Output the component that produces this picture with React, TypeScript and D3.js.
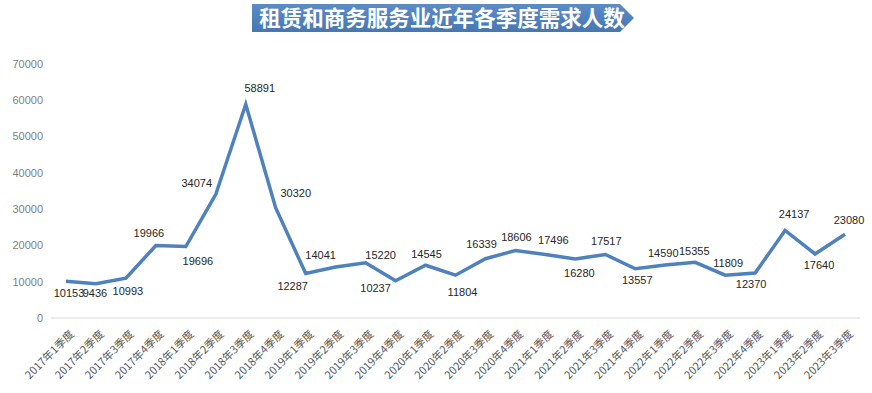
import React from "react";
import * as d3 from "d3";

const categories = [
  "2017年1季度","2017年2季度","2017年3季度","2017年4季度",
  "2018年1季度","2018年2季度","2018年3季度","2018年4季度",
  "2019年1季度","2019年2季度","2019年3季度","2019年4季度",
  "2020年1季度","2020年2季度","2020年3季度","2020年4季度",
  "2021年1季度","2021年2季度","2021年3季度","2021年4季度",
  "2022年1季度","2022年2季度","2022年3季度","2022年4季度",
  "2023年1季度","2023年2季度","2023年3季度",
];
const values = [
  10153, 9436, 10993, 19966, 19696, 34074, 58891, 30320, 12287, 14041,
  15220, 10237, 14545, 11804, 16339, 18606, 17496, 16280, 17517, 13557,
  14590, 15355, 11809, 12370, 24137, 17640, 23080,
];
const yTicks = [0, 10000, 20000, 30000, 40000, 50000, 60000, 70000];
const title = "租赁和商务服务业近年各季度需求人数";

// label offsets (style): [dx, dy] relative to the point
const labelOffsets: [number, number][] = [
  [3, 16], [-1, 13], [2, 17], [-7, -9], [12, 18], [-19, -7], [14, -12], [20, -11],
  [-13, 17], [-15, -8], [15, -4], [-20, 11], [1, -7], [7, 21], [-4, -11], [1, -9],
  [8, -11], [4, 18], [1, -9], [2, 15], [-2, -8], [-1, -7], [3, -8], [-4, 15],
  [9, -12], [4, 15], [4, -10],
];

const W = 872, H = 393;
const margin = { left: 51, right: 12, top: 64, bottom: 75 };

export default function App() {
  const x = d3.scaleBand<string>().domain(categories).range([margin.left, 860]);
  const y = d3.scaleLinear().domain([0, 70000]).range([318, 64]);
  const cx = (c: string) => (x(c) as number) + x.bandwidth() / 2;
  const line = d3.line<number>().x((_, i) => cx(categories[i])).y((v) => y(v));
  const path = line(values) || "";

  const tx0 = 252, tx1 = 620, tip = 634, ty0 = 4, ty1 = 32;
  const banner = `M${tx0},${ty0} L${tx1},${ty0} L${tip},${(ty0 + ty1) / 2} L${tx1},${ty1} L${tx0},${ty1} Z`;

  return (
    <div style={{ position: "absolute", left: 0, top: 0 }}>
      <svg width={W} height={H} style={{ display: "block", background: "#fff" }}>
        <defs>
          <linearGradient id="bannerGrad" x1="0" y1="0" x2="0" y2="1">
            <stop offset="0" stopColor="#5b8cc8" />
            <stop offset="1" stopColor="#4677b3" />
          </linearGradient>
        </defs>
        <path d={banner} fill="url(#bannerGrad)" />
        <text
          x={(tx0 + tip) / 2 - 1}
          y={26}
          textAnchor="middle"
          fill="#fff"
          fontFamily="'Noto Sans CJK SC', sans-serif"
          fontWeight="bold"
          fontSize={21.5}
        >
          {title}
        </text>

        {/* y axis labels */}
        {yTicks.map((t) => (
          <text
            key={t}
            x={43}
            y={y(t)}
            dy="0.35em"
            textAnchor="end"
            fill="#7f7f7f"
            fontFamily="'Liberation Sans', Arial, sans-serif"
            fontSize={11}
          >
            {t}
          </text>
        ))}

        {/* baseline */}
        <line x1={margin.left} x2={860} y1={y(0)} y2={y(0)} stroke="#d9d9d9" strokeWidth={1} />

        {/* x labels */}
        {categories.map((c) => (
          <text
            key={c}
            transform={`translate(${cx(c) + 6},${332}) rotate(-45)`}
            textAnchor="end"
            dy="0.35em"
            fill="#595959"
            fontFamily="'Noto Sans CJK SC', sans-serif"
            fontSize={11}
          >
            {c}
          </text>
        ))}

        {/* line */}
        <path d={path} fill="none" stroke="#4f81bd" strokeWidth={3.5} strokeLinejoin="miter" />

        {/* data labels */}
        {values.map((v, i) => (
          <text
            key={i}
            x={cx(categories[i]) + labelOffsets[i][0]}
            y={y(v) + labelOffsets[i][1]}
            textAnchor="middle"
            fill="#262626"
            fontFamily="'Liberation Sans', Arial, sans-serif"
            fontSize={11}
          >
            {v}
          </text>
        ))}
      </svg>
    </div>
  );
}
